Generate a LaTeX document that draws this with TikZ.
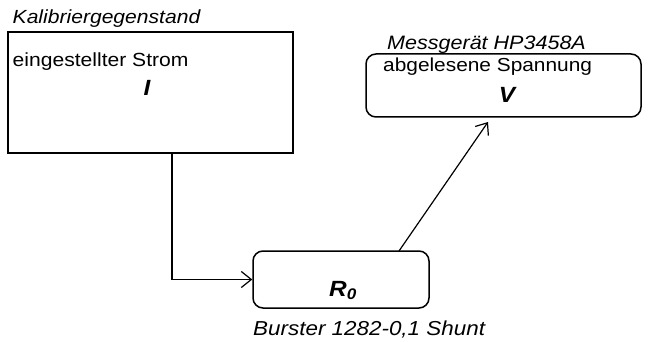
\documentclass[tikz,border=0pt]{standalone}
\usepackage{fontspec}
\setmainfont{Liberation Sans}[FakeStretch=1.11]
\usetikzlibrary{arrows.meta}
\tikzset{
  box/.style={draw=black, line width=1.5pt, inner sep=0pt},
  rbox/.style={box, rounded corners=10pt},
  lbl/.style={anchor=base west, inner sep=0pt, font=\fontsize{19}{23}\selectfont},
  ilbl/.style={lbl, font=\fontsize{19}{23}\selectfont\itshape},
  sym/.style={anchor=base, inner sep=0pt, font=\fontsize{22}{26}\selectfont\bfseries\itshape},
  conn/.style={draw=black, line width=1.2pt, -{Straight Barb[length=10pt,width=16pt,line width=1.2pt]}}
}
\begin{document}
\begin{tikzpicture}[x=1pt,y=-1pt]
\useasboundingbox (0,0) rectangle (648,342);
% boxes
\node[box, minimum width=285pt, minimum height=121pt] (b1) at (150.5,92.5) {};
\node[rbox, minimum width=275pt, minimum height=63pt] (b2) at (503.5,85.5) {};
\node[rbox, minimum width=176pt, minimum height=57pt] (b3) at (341,279.5) {};
% texts
\node[ilbl] (t1) at (12.5,24) {Kalibriergegenstand};
\node[lbl] (t2) at (12.5,67) {eingestellter Strom};
\node[sym] (t3) at (147,96) {I};
\node[ilbl, font=\fontsize{19.4}{23}\selectfont\itshape] (t4) at (387,50) {Messgerät HP3458A};
\node[lbl, font=\fontsize{18.8}{23}\selectfont] (t5) at (383,72) {abgelesene Spannung};
\node[sym] (t6) at (507,103) {V};
\node[sym] (t7) at (343,296) {R\textsubscript{0}};
\node[ilbl, font=\fontsize{20.2}{24}\selectfont\itshape] (t8) at (253,335) {Burster 1282-0,1 Shunt};
% connectors
\coordinate (c1) at (172,153);
\coordinate (c2) at (399,251);
\coordinate (c3) at (488,122);
\draw[conn] (c1) |- (b3.west);
\draw[conn] (c2) -- (c3);
\end{tikzpicture}
\end{document}
